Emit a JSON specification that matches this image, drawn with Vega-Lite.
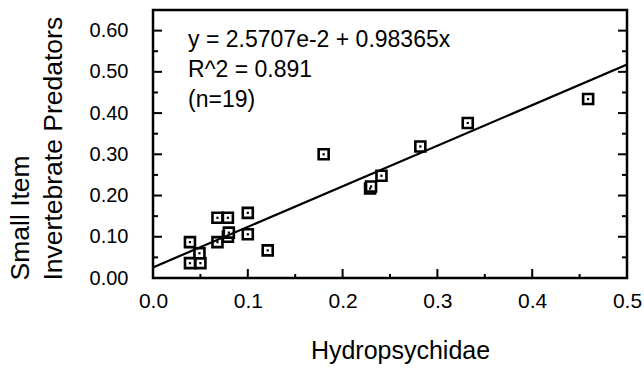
{
  "$schema": "https://vega.github.io/schema/vega-lite/v6.json",
  "width": 474,
  "height": 268,
  "autosize": {"type": "none"},
  "padding": {"left": 153, "top": 10, "right": 17, "bottom": 93},
  "background": "white",
  "config": {
    "view": {"stroke": "black", "strokeWidth": 2.5},
    "font": "Liberation Sans",
    "axis": {
      "grid": false,
      "domain": false,
      "ticks": false,
      "labelColor": "black",
      "titleColor": "black",
      "labelFont": "Liberation Sans",
      "titleFont": "Liberation Sans",
      "titleFontWeight": "normal",
      "labelOverlap": false,
      "labelFlush": false
    }
  },
  "datasets": {
    "pts": [
      {"h": 0.039, "p": 0.087},
      {"h": 0.039, "p": 0.036},
      {"h": 0.050, "p": 0.036},
      {"h": 0.049, "p": 0.060},
      {"h": 0.068, "p": 0.146},
      {"h": 0.079, "p": 0.146},
      {"h": 0.068, "p": 0.087},
      {"h": 0.079, "p": 0.100},
      {"h": 0.080, "p": 0.110},
      {"h": 0.100, "p": 0.158},
      {"h": 0.100, "p": 0.106},
      {"h": 0.121, "p": 0.067},
      {"h": 0.180, "p": 0.300},
      {"h": 0.229, "p": 0.217},
      {"h": 0.230, "p": 0.222},
      {"h": 0.241, "p": 0.248},
      {"h": 0.282, "p": 0.319},
      {"h": 0.332, "p": 0.376},
      {"h": 0.459, "p": 0.434}
    ],
    "fit": [
      {"h": 0.0, "p": 0.025707},
      {"h": 0.5, "p": 0.517532}
    ],
    "note": [
      {"h": 0.037, "p": 0.561, "t": "y = 2.5707e-2 + 0.98365x"},
      {"h": 0.037, "p": 0.488, "t": "R^2 = 0.891"},
      {"h": 0.037, "p": 0.415, "t": "(n=19)"}
    ],
    "xticks": [
      {"h": 0.0, "p": 0, "k": "major"},
      {"h": 0.05, "p": 0, "k": "minor"},
      {"h": 0.1, "p": 0, "k": "major"},
      {"h": 0.15, "p": 0, "k": "minor"},
      {"h": 0.2, "p": 0, "k": "major"},
      {"h": 0.25, "p": 0, "k": "minor"},
      {"h": 0.3, "p": 0, "k": "major"},
      {"h": 0.35, "p": 0, "k": "minor"},
      {"h": 0.4, "p": 0, "k": "major"},
      {"h": 0.45, "p": 0, "k": "minor"},
      {"h": 0.5, "p": 0, "k": "major"}
    ],
    "yticks": [
      {"h": 0, "p": 0.0, "k": "major"}, {"h": 0.5, "p": 0.0, "k": "major"},
      {"h": 0, "p": 0.05, "k": "minor"}, {"h": 0.5, "p": 0.05, "k": "minor"},
      {"h": 0, "p": 0.1, "k": "major"}, {"h": 0.5, "p": 0.1, "k": "major"},
      {"h": 0, "p": 0.15, "k": "minor"}, {"h": 0.5, "p": 0.15, "k": "minor"},
      {"h": 0, "p": 0.2, "k": "major"}, {"h": 0.5, "p": 0.2, "k": "major"},
      {"h": 0, "p": 0.25, "k": "minor"}, {"h": 0.5, "p": 0.25, "k": "minor"},
      {"h": 0, "p": 0.3, "k": "major"}, {"h": 0.5, "p": 0.3, "k": "major"},
      {"h": 0, "p": 0.35, "k": "minor"}, {"h": 0.5, "p": 0.35, "k": "minor"},
      {"h": 0, "p": 0.4, "k": "major"}, {"h": 0.5, "p": 0.4, "k": "major"},
      {"h": 0, "p": 0.45, "k": "minor"}, {"h": 0.5, "p": 0.45, "k": "minor"},
      {"h": 0, "p": 0.5, "k": "major"}, {"h": 0.5, "p": 0.5, "k": "major"},
      {"h": 0, "p": 0.55, "k": "minor"}, {"h": 0.5, "p": 0.55, "k": "minor"},
      {"h": 0, "p": 0.6, "k": "major"}, {"h": 0.5, "p": 0.6, "k": "major"}
    ]
  },
  "layer": [
    {
      "data": {"name": "pts"},
      "mark": {"type": "point", "shape": "square", "size": 100, "filled": false, "fill": "white", "fillOpacity": 1, "stroke": "black", "strokeWidth": 2.6, "opacity": 1},
      "encoding": {
        "x": {
          "field": "h", "type": "quantitative",
          "scale": {"domain": [0, 0.5], "nice": false, "zero": false},
          "axis": {
            "orient": "bottom",
            "values": [0, 0.1, 0.2, 0.3, 0.4, 0.5],
            "format": ".1f",
            "labelFontSize": 21,
            "labelPadding": 12,
            "title": "Hydropsychidae",
            "titleFontSize": 25,
            "titleX": 247,
            "titleY": 80,
            "titleBaseline": "alphabetic"
          }
        },
        "y": {
          "field": "p", "type": "quantitative",
          "scale": {"domain": [0, 0.65], "nice": false, "zero": false},
          "axis": {
            "orient": "left",
            "values": [0, 0.1, 0.2, 0.3, 0.4, 0.5, 0.6],
            "format": ".2f",
            "labelFontSize": 20,
            "labelPadding": 25,
            "title": ["Small Item", "Invertebrate Predators"],
            "titleFontSize": 26.5,
            "titleLineHeight": 33,
            "titleAngle": 270,
            "titleAlign": "left",
            "titleBaseline": "top",
            "titleX": -146,
            "titleY": 270
          }
        }
      }
    },
    {
      "data": {"name": "pts"},
      "mark": {"type": "point", "shape": "square", "size": 5, "filled": true, "color": "black", "opacity": 1},
      "encoding": {
        "x": {"field": "h", "type": "quantitative"},
        "y": {"field": "p", "type": "quantitative"}
      }
    },
    {
      "data": {"name": "note"},
      "mark": {"type": "text", "align": "left", "baseline": "alphabetic", "fontSize": 23, "font": "Liberation Sans", "color": "black"},
      "encoding": {
        "x": {"field": "h", "type": "quantitative"},
        "y": {"field": "p", "type": "quantitative"},
        "text": {"field": "t", "type": "nominal"}
      }
    },
    {
      "data": {"name": "fit"},
      "mark": {"type": "line", "color": "black", "strokeWidth": 2.2, "clip": true},
      "encoding": {
        "x": {"field": "h", "type": "quantitative"},
        "y": {"field": "p", "type": "quantitative"}
      }
    },
    {
      "data": {"name": "xticks"},
      "transform": [{"filter": "datum.k === 'major'"}],
      "mark": {"type": "point", "shape": "M0,0L0,-2", "size": 81, "filled": false, "stroke": "black", "strokeWidth": 2, "opacity": 1},
      "encoding": {
        "x": {"field": "h", "type": "quantitative"},
        "y": {"field": "p", "type": "quantitative"}
      }
    },
    {
      "data": {"name": "xticks"},
      "transform": [{"filter": "datum.k === 'minor'"}],
      "mark": {"type": "point", "shape": "M0,0L0,-2", "size": 16, "filled": false, "stroke": "black", "strokeWidth": 2, "opacity": 1},
      "encoding": {
        "x": {"field": "h", "type": "quantitative"},
        "y": {"field": "p", "type": "quantitative"}
      }
    },
    {
      "data": {"name": "yticks"},
      "transform": [{"filter": "datum.k === 'major' && datum.h == 0"}],
      "mark": {"type": "point", "shape": "M0,0L2,0", "size": 81, "filled": false, "stroke": "black", "strokeWidth": 2, "opacity": 1},
      "encoding": {
        "x": {"field": "h", "type": "quantitative"},
        "y": {"field": "p", "type": "quantitative"}
      }
    },
    {
      "data": {"name": "yticks"},
      "transform": [{"filter": "datum.k === 'minor' && datum.h == 0"}],
      "mark": {"type": "point", "shape": "M0,0L2,0", "size": 25, "filled": false, "stroke": "black", "strokeWidth": 2, "opacity": 1},
      "encoding": {
        "x": {"field": "h", "type": "quantitative"},
        "y": {"field": "p", "type": "quantitative"}
      }
    },
    {
      "data": {"name": "yticks"},
      "transform": [{"filter": "datum.k === 'major' && datum.h > 0"}],
      "mark": {"type": "point", "shape": "M0,0L-2,0", "size": 81, "filled": false, "stroke": "black", "strokeWidth": 2, "opacity": 1},
      "encoding": {
        "x": {"field": "h", "type": "quantitative"},
        "y": {"field": "p", "type": "quantitative"}
      }
    },
    {
      "data": {"name": "yticks"},
      "transform": [{"filter": "datum.k === 'minor' && datum.h > 0"}],
      "mark": {"type": "point", "shape": "M0,0L-2,0", "size": 25, "filled": false, "stroke": "black", "strokeWidth": 2, "opacity": 1},
      "encoding": {
        "x": {"field": "h", "type": "quantitative"},
        "y": {"field": "p", "type": "quantitative"}
      }
    }
  ]
}
